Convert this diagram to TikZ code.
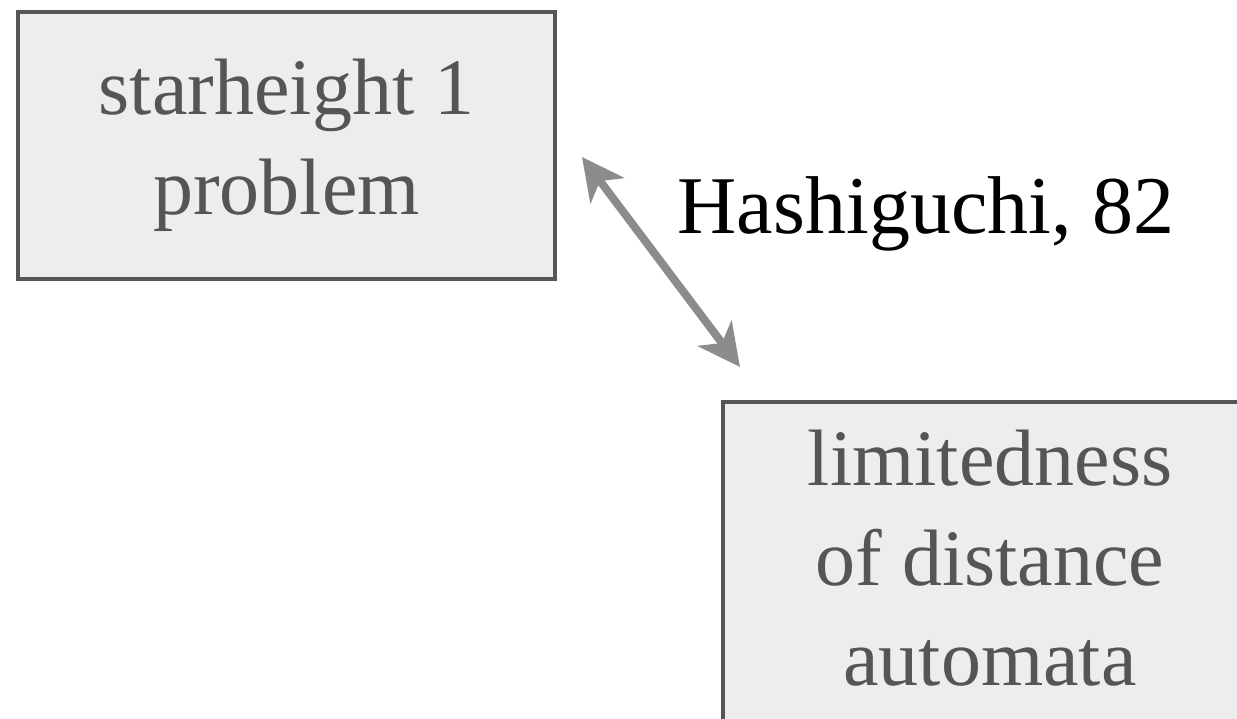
\documentclass[tikz,border=0pt]{standalone}
\usepackage{fontspec}
\setmainfont{Liberation Serif}
\usetikzlibrary{arrows.meta}
\definecolor{boxline}{RGB}{85,85,85}
\definecolor{boxfill}{RGB}{237,237,237}
\definecolor{boxtext}{RGB}{85,85,85}
\definecolor{arrowgray}{RGB}{140,140,140}
\tikzset{
  probbox/.style={draw=boxline, fill=boxfill, line width=2pt, inner sep=0pt},
  probtext/.style={text=boxtext, font=\fontsize{40}{50}\selectfont, align=center, inner sep=0pt},
  biarrow/.style={draw=arrowgray, line width=4pt,
    {Stealth[length=21pt,width=21pt,inset=6pt]}-{Stealth[length=21pt,width=21pt,inset=6pt]}},
  reflabel/.style={font=\fontsize{41}{50}\selectfont, text=black, inner sep=0pt}
}
\begin{document}
\begin{tikzpicture}[x=0.5pt,y=-0.5pt]
\clip (0,0) rectangle (1237,718);
\fill[white] (0,0) rectangle (1237,718);
\node[probbox, minimum width=268.5pt, minimum height=133.5pt] (sh) at (286.5,145.5) {};
\node[probtext] (sht) at (286.5,145.5) {starheight 1\\problem};
\node[probbox, minimum width=267pt, minimum height=175pt] (ld) at (990,577) {};
\node[probtext] (ldt) at (990,558) {limitedness\\of distance\\automata};
\coordinate (p) at (582,157);
\coordinate (q) at (740,367);
\draw[biarrow] (p) -- (q);
\node[reflabel, anchor=base] (hl) at (926,233) {Hashiguchi, 82};
\end{tikzpicture}
\end{document}
